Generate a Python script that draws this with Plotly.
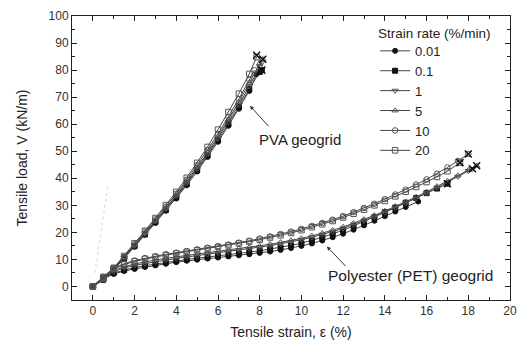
import plotly.graph_objects as go

rates = ["0.01", "0.1", "1", "5", "10", "20"]
symbols = ["circle", "square", "triangle-down-open", "triangle-up-open", "circle-open", "square-open"]

# PVA geogrid curves
pva_x = {
    "0.01": [0,0.5,1,1.5,2,2.5,3,3.5,4,4.5,5,5.5,6,6.5,7,7.5,7.85],
    "0.1": [0,0.5,1,1.5,2,2.5,3,3.5,4,4.5,5,5.5,6,6.5,7,7.5,8,8.1],
    "1": [0,0.5,1,1.5,2,2.5,3,3.5,4,4.5,5,5.5,6,6.5,7,7.5,8,8.1],
    "5": [0,0.5,1,1.5,2,2.5,3,3.5,4,4.5,5,5.5,6,6.5,7,7.5,8,8.15],
    "10": [0,0.5,1,1.5,2,2.5,3,3.5,4,4.5,5,5.5,6,6.5,7,7.5,7.75],
    "20": [0,0.5,1,1.5,2,2.5,3,3.5,4,4.5,5,5.5,6,6.5,7,7.5,7.85],
}
pva_y = {
    "0.01": [0,2.4,6.1,10.3,14.7,19.1,23.5,28,32.5,37.4,42.5,47.9,53.5,59.4,65.7,72.3,78.5],
    "0.1": [0,2.5,6.2,10.4,14.9,19.3,23.8,28.3,33,37.9,43,48.5,54.1,60,66.3,73,79.3,80],
    "1": [0,2.6,6.4,10.6,15.1,19.6,24.1,28.7,33.4,38.3,43.5,49,54.8,60.8,67.2,74,81.3,82.8],
    "5": [0,2.7,6.5,10.8,15.3,19.8,24.3,28.9,33.7,38.7,44,49.6,55.5,61.7,68.2,75.2,82.5,84],
    "10": [0,2.8,6.7,11,15.6,20.2,24.8,29.5,34.3,39.4,44.8,50.5,56.4,62.7,69.3,76.4,80],
    "20": [0,2.9,6.9,11.3,16,20.6,25.3,30.1,35,40.2,45.7,51.6,58,64.5,71.3,78.6,84.8],
}

# Polyester (PET) geogrid curves
pet_x = {
    "0.01": [0,0.5,1,1.5,2,2.5,3,3.5,4,4.5,5,5.5,6,6.5,7,7.5,8,8.5,9,9.5,10,10.5,11,11.5,12,12.5,13,13.5,14,14.5,15,15.6],
    "0.1": [0,0.5,1,1.5,2,2.5,3,3.5,4,4.5,5,5.5,6,6.5,7,7.5,8,8.5,9,9.5,10,10.5,11,11.5,12,12.5,13,13.5,14,14.5,15,15.5,16,16.5,17],
    "1": [0,0.5,1,1.5,2,2.5,3,3.5,4,4.5,5,5.5,6,6.5,7,7.5,8,8.5,9,9.5,10,10.5,11,11.5,12,12.5,13,13.5,14,14.5,15,15.5,16,16.5,17,17.5,18,18.2],
    "5": [0,0.5,1,1.5,2,2.5,3,3.5,4,4.5,5,5.5,6,6.5,7,7.5,8,8.5,9,9.5,10,10.5,11,11.5,12,12.5,13,13.5,14,14.5,15,15.5,16,16.5,17,17.5,18,18.4],
    "10": [0,0.5,1,1.5,2,2.5,3,3.5,4,4.5,5,5.5,6,6.5,7,7.5,8,8.5,9,9.5,10,10.5,11,11.5,12,12.5,13,13.5,14,14.5,15,15.5,16,16.5,17,17.5,18],
    "20": [0,0.5,1,1.5,2,2.5,3,3.5,4,4.5,5,5.5,6,6.5,7,7.5,8,8.5,9,9.5,10,10.5,11,11.5,12,12.5,13,13.5,14,14.5,15,15.5,16,16.5,17,17.6],
}
pet_y = {
    "0.01": [0,2.8,4.6,5.7,6.5,7.2,7.8,8.4,9,9.5,9.9,10.3,10.7,11.1,11.5,11.9,12.4,12.9,13.5,14.2,15,15.9,17,18.2,19.5,21,22.6,24.3,26,27.7,29.4,31.4],
    "0.1": [0,3,5,6.1,7,7.7,8.3,8.9,9.5,10,10.5,10.9,11.3,11.7,12.2,12.7,13.2,13.8,14.4,15.2,16,17,18.2,19.5,20.8,22.4,24,25.7,27.5,29.2,31,32.7,34.5,36.2,38],
    "1": [0,3.2,5.5,6.8,7.8,8.5,9.2,9.8,10.4,10.9,11.4,11.9,12.4,12.9,13.4,13.9,14.5,15.1,15.8,16.5,17.3,18.2,19.2,20.3,21.5,22.9,24.3,25.8,27.4,29.1,30.8,32.6,34.5,36.5,38.6,40.6,42.7,43.5],
    "5": [0,3.4,6,7.3,8.3,9.1,9.8,10.4,11,11.5,12,12.5,13,13.5,14,14.5,15,15.6,16.3,17,17.8,18.7,19.7,20.8,22,23.4,24.8,26.3,27.9,29.6,31.3,33.1,35,37,39,41,43,44.6],
    "10": [0,3.6,6.8,8.4,9.6,10.5,11.2,11.9,12.5,13.1,13.7,14.3,14.9,15.5,16.2,16.9,17.7,18.5,19.4,20.3,21.3,22.4,23.5,24.7,26,27.5,29,30.6,32.3,34,35.8,37.7,39.6,41.7,44,46.4,49],
    "20": [0,3.5,6.5,8.1,9.3,10.2,10.9,11.6,12.2,12.8,13.4,14,14.6,15.2,15.9,16.6,17.3,18.1,18.9,19.8,20.8,21.9,23,24.2,25.5,26.9,28.4,30,31.6,33.3,35,36.8,38.6,40.5,42.6,45.8],
}

# Break (rupture) points marked with x
break_x = [7.85, 8.15, 8.1, 18.0, 17.6, 18.4, 18.2, 17.0]
break_y = [85.5, 84.0, 80.0, 49.0, 45.8, 44.6, 43.5, 38.0]

# faint steep curve near origin
faint_x = [0.1, 0.3, 0.5, 0.73]
faint_y = [5, 15, 26, 37.6]

fig = go.Figure()

fig.add_trace(go.Scatter(x=faint_x, y=faint_y, mode="lines",
                         line=dict(color="#d8d8d8", width=1, dash="dot"),
                         showlegend=False, hoverinfo="skip"))

for r, s in zip(rates, symbols):
    filled = not s.endswith("open")
    mk = dict(symbol=s, size=5 if filled else 5.5,
              color="#111" if filled else "#555",
              line=dict(color="#111" if filled else "#555", width=1))
    fig.add_trace(go.Scatter(x=pva_x[r], y=pva_y[r], mode="lines+markers",
                             line=dict(color="#444", width=1), marker=mk,
                             name=r, legendgroup=r, showlegend=True))
    fig.add_trace(go.Scatter(x=pet_x[r], y=pet_y[r], mode="lines+markers",
                             line=dict(color="#444", width=1), marker=mk,
                             name=r, legendgroup=r, showlegend=False))

fig.add_trace(go.Scatter(x=break_x, y=break_y, mode="markers",
                         marker=dict(symbol="x-thin-open", size=7, color="#111",
                                     line=dict(color="#111", width=1.5)),
                         showlegend=False, hoverinfo="skip"))

font = "Liberation Sans, Arial, sans-serif"
axis_common = dict(showline=True, linecolor="#222", linewidth=1, mirror="ticks",
                   ticks="inside", ticklen=5, tickcolor="#222", showgrid=False,
                   zeroline=False, automargin=False,
                   tickfont=dict(family=font, size=12, color="#333"))

fig.update_xaxes(range=[-1, 20], dtick=2, tick0=0,
                 minor=dict(dtick=1, ticks="inside", ticklen=3, tickcolor="#222"),
                 title=dict(text="Tensile strain, ε (%)", font=dict(family=font, size=14, color="#222"), standoff=9),
                 **axis_common)
fig.update_yaxes(range=[-5, 100], dtick=10, tick0=0,
                 minor=dict(dtick=5, ticks="inside", ticklen=3, tickcolor="#222"),
                 title=dict(text="Tensile load, V (kN/m)", font=dict(family=font, size=14, color="#222"), standoff=17),
                 **axis_common)

fig.add_annotation(x=7.53, y=66.8, ax=8.49, ay=58.7, axref="x", ayref="y",
                   text="", showarrow=True, arrowhead=2, arrowsize=0.8, arrowwidth=1, arrowcolor="#333")
fig.add_annotation(x=9.95, y=54.2, text="PVA geogrid", showarrow=False,
                   font=dict(family=font, size=15, color="#222"))
fig.add_annotation(x=11.22, y=14.8, ax=12.18, ay=7.0, axref="x", ayref="y",
                   text="", showarrow=True, arrowhead=2, arrowsize=0.8, arrowwidth=1, arrowcolor="#333")
fig.add_annotation(x=15.25, y=4.1, text="Polyester (PET) geogrid", showarrow=False,
                   font=dict(family=font, size=15.5, color="#222"))
# legend heading
fig.add_annotation(x=0.694, y=0.940, xref="paper", yref="paper", xanchor="left", yanchor="middle",
                   text="Strain rate (%/min)", showarrow=False,
                   font=dict(family=font, size=13.5, color="#222"))

fig.update_layout(
    width=521, height=344,
    margin=dict(l=72, r=11, t=16, b=44, autoexpand=False),
    plot_bgcolor="white", paper_bgcolor="white",
    legend=dict(x=0.692, y=0.93, xanchor="left", yanchor="top",
                bgcolor="rgba(0,0,0,0)", borderwidth=0,
                font=dict(family=font, size=13, color="#222"),
                tracegroupgap=0),
    showlegend=True,
)

# remove the default 8px page margin so the figure sits at the window origin
fig.write_html("out.html", config={"displayModeBar": False},
               post_script="document.body.style.margin='0';")
